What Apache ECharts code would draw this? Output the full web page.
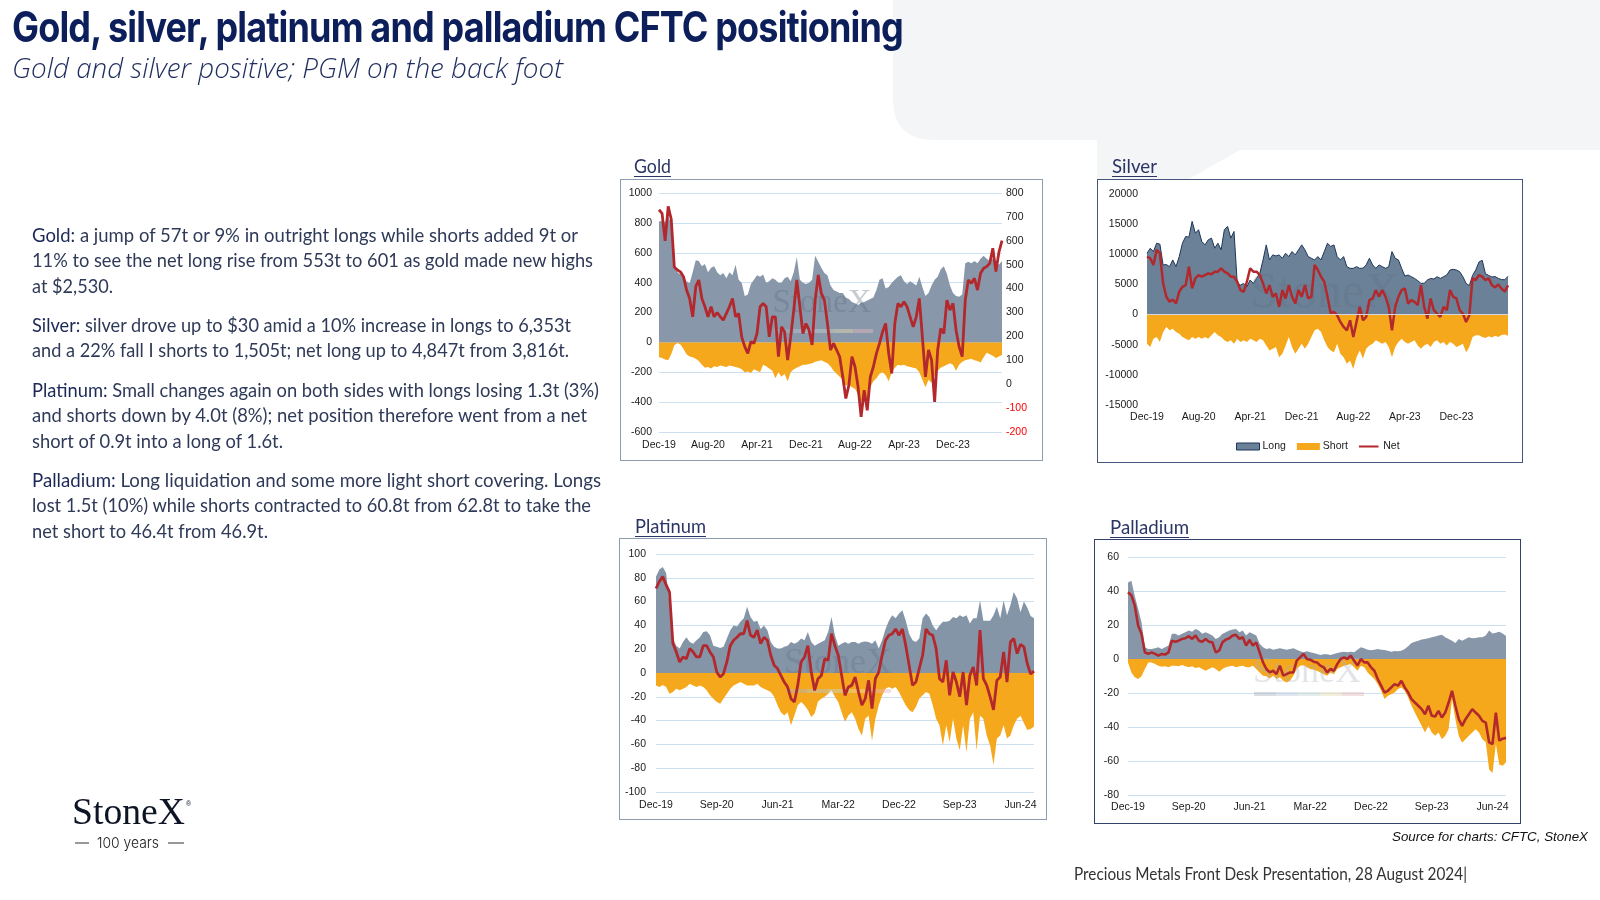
<!DOCTYPE html>
<html>
<head>
<meta charset="utf-8">
<script src="https://cdn.jsdelivr.net/npm/echarts/dist/echarts.min.js"></script>
<style>
html,body{margin:0;padding:0;width:1600px;height:900px;overflow:hidden;background:#ffffff;}
.box{position:absolute;box-sizing:border-box;background:#ffffff;}
.box > div{position:absolute;left:0;top:0;width:100%;height:100%;}
svg.layer{position:absolute;left:0;top:0;}
</style>
</head>
<body>
<svg class="layer" width="1600" height="900">
  <path d="M893,0 H1600 V150 H1240 L1189,179 H1097 V140 H935 Q893,140 893,100 Z" fill="#f4f5f7"/>
</svg>

<div class="box" style="left:620px;top:179px;width:423px;height:282px;border:1.5px solid #8d9db1;"><div id="cGold"></div></div>
<div class="box" style="left:1097px;top:179px;width:426px;height:284px;border:1.5px solid #46557c;"><div id="cSilver"></div></div>
<div class="box" style="left:619px;top:538px;width:428px;height:282px;border:1.5px solid #8d9db1;"><div id="cPlat"></div></div>
<div class="box" style="left:1094px;top:539px;width:427px;height:285px;border:1.5px solid #33426c;"><div id="cPall"></div></div>

<svg class="layer" width="1600" height="900" style="pointer-events:none">
  <text x="12" y="42" font-family="Inter, 'Liberation Sans', sans-serif" font-weight="700" font-size="42" letter-spacing="-1" fill="#0c1f5b" textLength="891" lengthAdjust="spacingAndGlyphs">Gold, silver, platinum and palladium CFTC positioning</text>
  <text x="12" y="78" font-family="'Open Sans', Lato, sans-serif" font-style="italic" font-weight="300" font-size="27" fill="#1e2c5e" textLength="551" lengthAdjust="spacingAndGlyphs">Gold and silver positive; PGM on the back foot</text>

  <g font-family="Lato, 'Open Sans', sans-serif" font-size="19" fill="#2f3a58" style="white-space:pre">
    <text x="32" y="242" textLength="546" lengthAdjust="spacingAndGlyphs"><tspan fill="#1b2856">Gold:</tspan>  a jump of 57t or 9% in outright longs while shorts added 9t or</text>
    <text x="32" y="267" textLength="561" lengthAdjust="spacingAndGlyphs">11% to see the net long rise from 553t to 601 as gold made new highs</text>
    <text x="32" y="293" textLength="81" lengthAdjust="spacingAndGlyphs">at $2,530.</text>
    <text x="32" y="332" textLength="539" lengthAdjust="spacingAndGlyphs"><tspan fill="#1b2856">Silver:</tspan> silver drove up to $30 amid a 10% increase in longs to 6,353t</text>
    <text x="32" y="357" textLength="537" lengthAdjust="spacingAndGlyphs">and a 22% fall I shorts to 1,505t; net long up to 4,847t from 3,816t.</text>
    <text x="32" y="397" textLength="567" lengthAdjust="spacingAndGlyphs"><tspan fill="#1b2856">Platinum:</tspan> Small changes again on both sides with longs losing 1.3t (3%)</text>
    <text x="32" y="422" textLength="555" lengthAdjust="spacingAndGlyphs">and shorts down by 4.0t (8%); net position therefore went from a net</text>
    <text x="32" y="448" textLength="251" lengthAdjust="spacingAndGlyphs">short of 0.9t into a long of 1.6t.</text>
    <text x="32" y="487" textLength="569" lengthAdjust="spacingAndGlyphs"><tspan fill="#1b2856">Palladium:</tspan> Long liquidation and some more light  short covering.  Longs</text>
    <text x="32" y="512" textLength="559" lengthAdjust="spacingAndGlyphs">lost 1.5t (10%) while shorts contracted to 60.8t from 62.8t to take the</text>
    <text x="32" y="538" textLength="236" lengthAdjust="spacingAndGlyphs">net short to 46.4t from 46.9t.</text>
  </g>

  <g font-family="Lato, 'Open Sans', sans-serif" font-size="19" fill="#2a3565">
    <text x="634" y="173" textLength="37" lengthAdjust="spacingAndGlyphs">Gold</text>
    <line x1="634" y1="176.5" x2="671" y2="176.5" stroke="#2a3565" stroke-width="1.2"/>
    <text x="1112" y="173" textLength="45" lengthAdjust="spacingAndGlyphs">Silver</text>
    <line x1="1112" y1="176.5" x2="1157" y2="176.5" stroke="#2a3565" stroke-width="1.2"/>
    <text x="635" y="533" textLength="71" lengthAdjust="spacingAndGlyphs">Platinum</text>
    <line x1="635" y1="536.5" x2="706" y2="536.5" stroke="#2a3565" stroke-width="1.2"/>
    <text x="1110" y="534" textLength="79" lengthAdjust="spacingAndGlyphs">Palladium</text>
    <line x1="1110" y1="537.5" x2="1189" y2="537.5" stroke="#2a3565" stroke-width="1.2"/>
  </g>

  <text x="72" y="824" font-family="'Liberation Serif', 'DejaVu Serif', serif" font-size="37" fill="#0d1424" textLength="113" lengthAdjust="spacingAndGlyphs">StoneX</text>
  <text x="186" y="806" font-family="'Liberation Sans', sans-serif" font-size="7" fill="#0d1424">®</text>
  <line x1="75" y1="843" x2="89" y2="843" stroke="#333" stroke-width="1"/>
  <line x1="168" y1="843" x2="184" y2="843" stroke="#333" stroke-width="1"/>
  <text x="97" y="848" font-family="Inter, 'Liberation Sans', sans-serif" font-weight="300" font-size="15" fill="#1a1a1a" textLength="62" lengthAdjust="spacingAndGlyphs">100 years</text>

  <text x="1588" y="841" text-anchor="end" font-family="'Liberation Sans', Arial, sans-serif" font-style="italic" font-size="13.5" fill="#111111" textLength="196" lengthAdjust="spacingAndGlyphs">Source for charts: CFTC, StoneX</text>
  <text x="1074" y="880" font-family="Lato, 'Open Sans', sans-serif" font-size="17" fill="#333333" textLength="393" lengthAdjust="spacingAndGlyphs">Precious Metals Front Desk Presentation, 28 August 2024|</text>
</svg>

<script>
// ---------------- DATA (half-monthly, Dec-19 .. Aug-24, 113 points) ----------------
const ticksGoldSilver = ['Dec-19','Aug-20','Apr-21','Dec-21','Aug-22','Apr-23','Dec-23'];
const ticksPGM = ['Dec-19','Sep-20','Jun-21','Mar-22','Dec-22','Sep-23','Jun-24'];

const goldLong = [
 810,815,805,845,790,520,470,455,
 440,410,395,470,550,545,510,525,
 470,500,510,470,450,465,430,470,
 450,520,420,400,310,320,390,420,
 450,440,455,400,410,430,420,400,
 400,430,440,410,470,570,420,400,
 390,400,420,580,540,500,465,450,
 380,350,340,330,330,300,290,270,
 262,250,265,270,280,290,300,350,
 420,430,360,370,400,420,440,450,
 410,390,410,395,380,440,370,310,
 330,380,420,440,490,510,460,380,
 330,310,305,320,530,540,530,545,
 530,560,580,560,545,560,540,520,
 545];
const goldShort = [
 -100,-105,-115,-120,-80,-20,-5,-15,
 -45,-80,-95,-100,-110,-125,-150,-170,
 -165,-175,-160,-165,-155,-160,-165,-155,
 -160,-165,-170,-180,-200,-195,-205,-180,
 -190,-200,-150,-160,-175,-190,-240,-200,
 -230,-210,-260,-200,-180,-170,-160,-150,
 -150,-145,-140,-130,-125,-120,-130,-140,
 -160,-190,-210,-230,-250,-290,-280,-300,
 -310,-350,-400,-370,-420,-300,-260,-240,
 -210,-200,-220,-260,-200,-170,-150,-155,
 -150,-160,-165,-170,-175,-200,-250,-300,
 -250,-270,-220,-190,-170,-160,-150,-140,
 -150,-190,-150,-130,-120,-115,-110,-120,
 -125,-135,-100,-70,-80,-90,-105,-95,
 -85];
const goldNet = [
 730,715,600,744,690,490,478,470,
 450,394,359,282,408,436,359,324,
 282,324,282,300,282,268,296,324,
 359,282,296,198,157,129,178,171,
 212,324,338,324,198,282,282,115,
 240,219,101,198,310,436,324,212,
 254,226,164,352,457,380,352,254,
 143,171,143,115,31,-60,-4,115,
 73,-11,-137,-25,-109,31,73,129,
 171,219,254,129,45,254,338,324,
 345,324,282,240,282,359,198,31,
 143,101,-74,143,233,212,352,310,
 338,226,157,115,352,436,422,443,
 394,464,485,492,506,569,471,553,
 601];

const silverLong = [
 10170,11000,10450,11840,11680,8230,8300,7950,
 9060,7950,9620,11840,12950,12840,15460,13510,
 14070,12120,11560,12400,12680,11010,11840,10730,
 14070,14620,12680,13790,5170,4890,5170,4610,
 5730,5170,6000,6840,9060,11560,9060,9900,
 9730,9900,9340,10170,9620,10450,9900,10730,
 11560,10730,9620,9340,9060,9620,9060,10450,
 11840,11290,11560,9620,9060,9620,7950,7670,
 7670,7950,7670,7700,8230,9340,8230,7670,
 8230,7950,7670,7950,10450,9340,9060,7670,
 6390,6560,6280,6000,5620,5170,5200,5730,
 6000,5900,6280,6000,6280,6560,7390,7500,
 7390,7120,6280,5170,4800,6500,7400,8730,
 9000,6780,6500,6230,6300,6000,5800,5780,
 6353];
const silverShort = [
 -4840,-5390,-4000,-3720,-4560,-2890,-2060,-2610,
 -2340,-2890,-3170,-3720,-4000,-4280,-3720,-4000,
 -3720,-4000,-3720,-4000,-3450,-2890,-3450,-3720,
 -4280,-4560,-4280,-4840,-4000,-4560,-4280,-4560,
 -4000,-4280,-4560,-4000,-4280,-5120,-5950,-5670,
 -5390,-7060,-6500,-5120,-3720,-5390,-6500,-5670,
 -4840,-5670,-4840,-3720,-2610,-2340,-2890,-4280,
 -5390,-5950,-6230,-4840,-6500,-7060,-8170,-7620,
 -9010,-7060,-5950,-7340,-5670,-5120,-4840,-4280,
 -4560,-4840,-4560,-5390,-7060,-5390,-4560,-4000,
 -4560,-4840,-4560,-4280,-5120,-5670,-5120,-4840,
 -5390,-4560,-4280,-4840,-4560,-5120,-4560,-4840,
 -5390,-5120,-4840,-6230,-5390,-3720,-3450,-3450,
 -3720,-3900,-3600,-3800,-3500,-3700,-3400,-3300,
 -3500];
const silverNet = [
 9620,9340,8230,10730,10170,5170,2950,2110,
 2500,1830,3780,4610,4890,7950,4340,6000,
 6560,6280,6560,6840,6700,7120,7120,7670,
 7120,6840,6280,6280,5450,4060,3780,5450,
 7670,7120,7120,6560,5170,3500,4890,2950,
 3500,1280,4060,2670,4890,2950,1830,4060,
 2950,4890,2670,2950,8230,7390,6280,5450,
 2950,170,440,-110,-1220,-2060,-2610,-950,
 -3720,-1220,1280,-950,-390,2390,2670,4060,
 2950,4060,2950,1280,-2610,1280,2950,4060,
 4340,1830,2390,2110,1560,4890,1280,-670,
 2670,720,170,-390,1280,720,4060,2950,
 2670,720,170,-1220,-110,6000,5730,6560,
 6280,5730,6000,4890,4500,5000,4300,3816,
 4847];

const platLong = [
 81,87,89,84,57,29,23,20.5,
 26,30,26,24.5,27.5,30,34.5,35,
 31.7,23,22,21,22,29,36,40,
 39,43,46,55.6,47,43,44,37,
 40,36,26,22,20.5,20.5,22,23,
 26,24.5,26,29,27.5,34.5,26,23,
 24.5,26,27.5,34.5,47,31.7,23,24.5,
 26,24.5,26,26,24.5,26,26.5,26,
 24.5,27.5,20.5,27.5,37,44,48.6,46,
 50,52.8,44,33,27.5,26,29,46,
 50,47,40,36,40,43,43,44,
 47,46,48.6,47,48.6,41.6,46,46,
 61,44,44,44,48.6,55.6,46,61,
 48.6,57,68,62.6,51,60,55,48,
 46];
const platShort = [
 -10.4,-11.8,-10,-11.8,-17.4,-16,-13.2,-14.6,
 -13.2,-11.8,-9,-10.4,-11.8,-10.4,-11.8,-14.6,
 -18.8,-21.6,-24.4,-25.8,-21.6,-17.4,-13.2,-10.4,
 -9,-7.6,-9,-10.4,-10.4,-10.4,-9,-11.8,
 -13.2,-14.6,-16,-20,-27,-33,-35.7,-33,
 -44,-35.7,-27,-24.4,-27,-31,-37,-34,
 -24,-21.6,-20,-17.4,-14.6,-20,-24.4,-33,
 -41,-35.7,-33,-38.5,-47,-52.5,-38.5,-35.7,
 -57,-38.5,-27,-18.8,-13.2,-11.8,-13.2,-11.8,
 -16,-21.6,-27,-31,-33,-28.5,-21.6,-18.8,
 -16,-17.4,-27,-38.5,-44,-61,-44,-58,
 -38.5,-55,-65,-44,-66.6,-38.5,-33,-65,
 -35.7,-38.5,-52.5,-61,-77,-55,-52.5,-44,
 -55,-52.5,-44,-38.5,-36,-42,-48,-47,
 -45];
const platNet = [
 71,77,81,74,68,25,17.7,9.3,
 13.5,12,20.5,17.7,13.5,13.5,23,23,
 17.7,13.5,0.8,-3.4,-0.6,9.3,23,27.5,
 30,33,33,44,31.7,30,36,24.7,
 30,27.5,14.9,6.5,3.7,-2,-7.6,-11.8,
 -21.6,-24.4,-10.4,9.3,13.5,23,0.8,-14.6,
 -4.8,-2,12,10.7,33,23,14.9,-2,
 -18.8,-11.8,-10.4,-3.4,-16,-27,-21.6,-6.2,
 -30,-4.8,0.8,14.9,27.5,31.7,33,37,
 31.7,37,23,6.5,-10.4,-7.6,3.7,14.9,
 37,33,31.7,20.5,-4.8,-7.6,10.7,-18.8,
 0.8,-7.6,-20,0.8,-27,-2,5,-10.4,
 36,-4.8,-10.4,-20,-31,-6.2,-3.4,17.7,
 -7.6,26,29,16.3,24,22,8,-0.9,
 1.6];

const pallLong = [
 45,46,37,29.5,21.6,6.9,5.9,5.9,
 6.3,6.9,5.9,6.9,7.9,14.8,14.8,13.8,
 14.8,15.7,16.7,16.1,17.7,16.7,14.8,15.7,
 14.8,13.8,11.8,12.8,14.8,15.7,16.7,17.3,
 17.7,15.7,16.7,13.8,15.7,14.8,13.8,8.9,
 6.9,5.9,6.3,5.5,5.9,6.3,5.9,5.5,
 5.9,6.3,5.5,4.5,3.9,4.5,3.9,3.5,
 3,2.4,2.8,2.8,2.4,3,3.5,3.9,
 4.3,3.9,4.3,3.9,5.5,6.9,6.3,5.5,
 5.1,5.5,5.9,5.5,5.3,4.9,4.3,4.7,
 4.5,4.9,5.9,7.5,9.4,10.2,10.8,11.4,
 11.8,12.2,12.8,13.2,13.8,14.2,12.8,11.8,
 10.8,9.4,11.8,10.8,11.8,12.8,12.2,12.4,
 12.8,12.8,13.8,16.7,15,15.5,16,15,
 13.6];
const pallShort = [
 -2,-7.9,-10.8,-11.8,-10.2,-5.9,-2,-2,
 -3,-3.9,-4.5,-4.3,-4.9,-3.9,-3.9,-4.3,
 -3.5,-4.3,-4.9,-4.3,-5.3,-4.9,-5.9,-6.9,
 -5.9,-4.9,-5.9,-7.5,-5.9,-4.9,-4.3,-3.9,
 -4.9,-4.3,-3.9,-4.9,-4.9,-3.9,-5.9,-7.9,
 -9.8,-10.2,-11.4,-9.8,-11.8,-10.8,-12.8,-13.8,
 -12.8,-9.8,-5.9,-3.9,-3.5,-4.9,-5.9,-6.3,
 -6.9,-7.9,-8.9,-9.8,-7.9,-8.9,-5.9,-4.9,
 -3.9,-3.5,-3,-4.9,-6.9,-3.9,-4.9,-7.9,
 -9.8,-11.8,-14.8,-18.7,-23.6,-21.6,-20.7,-19.7,
 -17.7,-16.7,-18.7,-22.6,-27.5,-31.5,-35.4,-39.3,
 -43.3,-39.3,-43.3,-45.2,-43.3,-47.2,-45.2,-41.3,
 -23.6,-35.4,-45.2,-49.2,-47.2,-45.2,-43.3,-41.3,
 -43.3,-47.2,-49,-65,-67,-50,-62,-62.8,
 -60.8];
const pallNet = [
 39.3,37.4,31.5,19.7,14.8,3.9,3,3.9,
 3,2,3,2.6,3.9,10.8,10.2,10.8,
 11.8,12.2,13.4,11.8,13.8,10.8,10.2,11.8,
 10.2,9.8,3.9,4.9,9.8,11.4,12.2,13.8,
 14.2,11.8,12.8,7.9,11.2,7.9,9.8,3.9,
 -2,-5.9,-7.9,-6.9,-8.9,-3.9,-9.8,-8.9,
 -7.9,-7.9,-1,1,3,0,-0.4,-1.6,
 -2,-3.9,-4.9,-7.9,-5.9,-6.9,-3,0,
 1,0,2,-1,-3.9,0,-2,-2,
 -4.9,-6.9,-11.8,-15.7,-19.7,-18.7,-16.7,-14.8,
 -15.7,-12.8,-16.7,-19.7,-23.6,-25.6,-27.5,-29.5,
 -32.5,-27.5,-33.4,-33.8,-30.5,-34.4,-31.5,-25.6,
 -18.7,-27.5,-35.4,-39.3,-35.4,-32.5,-29.5,-31.5,
 -33.4,-36.4,-37.4,-49,-50,-31.6,-48,-46.9,
 -46.4];

// half-monthly category axis (dates of the observations)
const N = 113;
const dates = [];
for (let i = 0; i < N; i++) {
  const m = Math.floor(i / 2);
  const mo = (11 + m) % 12;
  const yr = 2019 + Math.floor((11 + m) / 12);
  dates.push(yr + '-' + String(mo + 1).padStart(2, '0') + '-' + (i % 2 ? '17' : '03'));
}

// ---------------- STYLE ----------------
const FONT = "'Liberation Sans', Arial, sans-serif";
const TXT = '#1a1a1a';
const GRID_C = '#cde0f2';
const SHORT_C = '#f5a81c';
const NET_C = '#b3282d';

function xAxisFor(ticks, step, margin) {
  return {
    type: 'category', data: dates, boundaryGap: false,
    axisLine: { show: false, onZero: false }, axisTick: { show: false }, splitLine: { show: false },
    axisLabel: {
      interval: function (i) { return i % step === 0 && (i / step) < ticks.length; },
      formatter: function (v, i) { return ticks[i / step] || ''; },
      color: TXT, fontSize: 10.5, fontFamily: FONT, margin: margin
    }
  };
}
function yAxisFor(min, max, step, margin, grid, extra) {
  return Object.assign({
    type: 'value', min: min, max: max, interval: step,
    axisLine: { show: false }, axisTick: { show: false },
    splitLine: { show: grid, lineStyle: { color: GRID_C, width: 1 } },
    axisLabel: { color: TXT, fontSize: 10.5, fontFamily: FONT, margin: margin, formatter: function (v) { return String(v); } }
  }, extra || {});
}
function areaSeries(name, data, color, yIdx, outline) {
  return {
    type: 'line', name: name, data: data, yAxisIndex: yIdx || 0, symbol: 'none', silent: true, z: 1,
    lineStyle: outline ? { width: 1, color: outline } : { width: 0 },
    itemStyle: { color: color, borderColor: outline || color },
    areaStyle: { color: color, opacity: 1 }
  };
}
function lineSeries(name, data, yIdx, w) {
  return {
    type: 'line', name: name, data: data, yAxisIndex: yIdx || 0, symbol: 'none', silent: true, z: 3,
    lineStyle: { width: w, color: NET_C }, itemStyle: { color: NET_C }
  };
}
function watermark(cx, cy, size, barY, barX0, barX1, fill) {
  const els = [{
    type: 'text', x: cx, y: cy, z: 2, silent: true,
    style: { text: 'StoneX', fill: fill, font: size + "px 'Liberation Serif', 'DejaVu Serif', serif",
      align: 'center', verticalAlign: 'middle', textAlign: 'center', textVerticalAlign: 'middle' }
  }];
  if (barY != null) {
    const cols = ['#aab3bf', '#b9c8d8', '#c4d6cf', '#e6dcae', '#e4b8bb'];
    const w = (barX1 - barX0) / cols.length;
    cols.forEach(function (c, k) {
      els.push({ type: 'rect', z: 2, silent: true, shape: { x: barX0 + k * w, y: barY - 2, width: w, height: 4 },
        style: { fill: c, opacity: 0.45 } });
    });
  }
  return els;
}

// ---------------- GOLD ----------------
echarts.init(document.getElementById('cGold'), null, { renderer: 'canvas' }).setOption({
  animation: false,
  grid: { left: 38, right: 40, top: 13, bottom: 28 },
  xAxis: xAxisFor(ticksGoldSilver, 16, 8),
  yAxis: [
    yAxisFor(-600, 1000, 200, 7, true),
    yAxisFor(-200, 800, 100, 4, false, {
      position: 'right',
      axisLabel: { fontSize: 10.5, fontFamily: FONT, margin: 4, formatter: function (v) { return String(v); },
        color: function (v) { return Number(v) < 0 ? '#ff0000' : TXT; } }
    })
  ],
  graphic: watermark(201, 123, 33, 151, 153, 252, 'rgba(95,110,130,0.35)'),
  series: [
    areaSeries('Long', goldLong, '#8898aa', 0),
    areaSeries('Short', goldShort, SHORT_C, 0),
    lineSeries('Net', goldNet, 1, 2.8)
  ]
});

// ---------------- SILVER ----------------
const silverLongSeries = areaSeries('Long', silverLong, '#6b8197', 0, '#1f3558');
const silverShortSeries = areaSeries('Short', silverShort, SHORT_C, 0);
silverShortSeries.markLine = { silent: true, symbol: 'none', label: { show: false },
  lineStyle: { color: '#d3d8de', width: 1, type: 'solid' }, data: [{ yAxis: 0 }] };
echarts.init(document.getElementById('cSilver'), null, { renderer: 'canvas' }).setOption({
  animation: false,
  grid: { left: 49, right: 14, top: 14, bottom: 57 },
  xAxis: xAxisFor(ticksGoldSilver, 16, 7),
  yAxis: yAxisFor(-15000, 20000, 5000, 9, false),
  legend: {
    selectedMode: false, left: 133, top: 256, itemWidth: 23, itemHeight: 7, itemGap: 11,
    textStyle: { color: TXT, fontSize: 10.5, fontFamily: FONT, padding: [0, 0, 0, -2] },
    data: [
      { name: 'Long', icon: 'rect', itemStyle: { color: '#6b8197', borderColor: '#1f3558', borderWidth: 1 } },
      { name: 'Short', icon: 'rect', itemStyle: { color: SHORT_C, borderWidth: 0 } },
      { name: 'Net', icon: 'path://M0,0 h0.1 v0.1 h-0.1 Z M0,3 H24 V5.6 H0 Z M0,8.5 h0.1 v0.1 h-0.1 Z', itemStyle: { color: NET_C, borderWidth: 0 } }
    ]
  },
  graphic: watermark(227, 114, 50, null, 0, 0, 'rgba(95,110,130,0.28)'),
  series: [silverLongSeries, silverShortSeries, lineSeries('Net', silverNet, 0, 2.5)]
});

// ---------------- PLATINUM ----------------
echarts.init(document.getElementById('cPlat'), null, { renderer: 'canvas' }).setOption({
  animation: false,
  grid: { left: 36, right: 12, top: 15, bottom: 27 },
  xAxis: xAxisFor(ticksPGM, 18, 8),
  yAxis: yAxisFor(-100, 100, 20, 10, true),
  graphic: watermark(218, 125, 36, 152, 166, 271, 'rgba(95,110,130,0.3)'),
  series: [
    areaSeries('Long', platLong, '#8595a8', 0),
    areaSeries('Short', platShort, SHORT_C, 0),
    lineSeries('Net', platNet, 0, 2.8)
  ]
});

// ---------------- PALLADIUM ----------------
echarts.init(document.getElementById('cPall'), null, { renderer: 'canvas' }).setOption({
  animation: false,
  grid: { left: 33, right: 14, top: 17, bottom: 28 },
  xAxis: xAxisFor(ticksPGM, 18, 7),
  yAxis: yAxisFor(-80, 60, 20, 9, true),
  graphic: watermark(212, 133, 36, 154, 159, 269, 'rgba(170,178,190,0.35)'),
  series: [
    areaSeries('Long', pallLong, '#8797a9', 0),
    areaSeries('Short', pallShort, SHORT_C, 0),
    lineSeries('Net', pallNet, 0, 2.6)
  ]
});

// sanity check on series lengths
[goldLong, goldShort, goldNet, silverLong, silverShort, silverNet, platLong, platShort, platNet, pallLong, pallShort, pallNet]
  .forEach(function (a, k) { if (a.length !== N) { document.body.insertAdjacentHTML('beforeend',
    '<div style="position:absolute;left:10px;top:' + (600 + k * 14) + 'px;color:red;font:12px sans-serif">len ' + k + ' = ' + a.length + '</div>'); } });
</script>
</body>
</html>
